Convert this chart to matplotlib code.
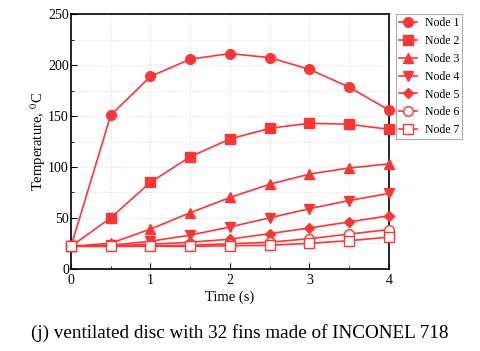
import matplotlib
matplotlib.use("Agg")
import matplotlib.pyplot as plt
from matplotlib.ticker import MultipleLocator

plt.rcParams['font.family'] = ['Liberation Serif', 'DejaVu Serif']
plt.rcParams['mathtext.fontset'] = 'stix'

time = [0, 0.5, 1, 1.5, 2, 2.5, 3, 3.5, 4]
node1 = [22, 151, 189, 206, 211.5, 207.5, 196, 178.5, 156]
node2 = [22, 50, 85, 110, 127.5, 138, 143, 142, 137]
node3 = [22, 25, 39, 55, 70, 83, 93, 99, 103]
node4 = [22, 23, 27, 33, 41, 50, 59, 67, 74]
node5 = [22, 22.5, 24, 26, 29, 34.5, 40, 46, 52]
node6 = [22, 22, 22.5, 23, 24.5, 26, 29.5, 34, 38.5]
node7 = [22, 22, 22, 22, 22.5, 23, 25, 27.5, 31]
labels = ['Node 1', 'Node 2', 'Node 3', 'Node 4', 'Node 5', 'Node 6', 'Node 7']
series = [node1, node2, node3, node4, node5, node6, node7]
markers = ['o', 's', '^', 'v', 'D', 'o', 's']
filled = [True, True, True, True, True, False, False]
sizes = [7, 7, 6.5, 6.5, 5, 7, 7]

red = '#ff3535'

fig = plt.figure(figsize=(4.8, 3.51), dpi=100)
ax = fig.add_axes([0.148, 0.2345, 0.662, 0.7245])

handles = []
for y, lab, m, f, s in zip(series, labels, markers, filled, sizes):
    h, = ax.plot(time, y, color=red, lw=1.2, marker=m, ms=s,
                 mfc=red if f else 'white', mec=red, mew=1.0,
                 label=lab, clip_on=False, zorder=3)
    handles.append(h)

ax.set_xlim(0, 4)
ax.set_ylim(0, 250)
ax.xaxis.set_major_locator(MultipleLocator(1))
ax.xaxis.set_minor_locator(MultipleLocator(0.5))
ax.yaxis.set_major_locator(MultipleLocator(50))
ax.yaxis.set_minor_locator(MultipleLocator(25))
ax.tick_params(which='both', direction='in', labelsize=10)
ax.tick_params(which='major', length=4)
ax.tick_params(which='minor', length=2)
ax.tick_params(axis='y', which='major', pad=1.5)
ax.grid(True, which='both', color='#dddddd', linestyle=':', linewidth=0.8)
for sp in ax.spines.values():
    sp.set_linewidth(1.2)

ax.set_xlabel('Time (s)', fontsize=10.5, labelpad=3)
ax.set_ylabel('Temperature, $^{0}$C', fontsize=10.5, labelpad=0.5)

leg = fig.legend(handles=handles, loc='upper left', bbox_to_anchor=(396/480, 1 - 14/351),
                 fontsize=8.5, frameon=True, fancybox=False, handlelength=1.5,
                 borderpad=0.25, labelspacing=0.5, handletextpad=0.7, borderaxespad=0)
leg.get_frame().set_edgecolor('#999999')
leg.get_frame().set_linewidth(0.8)

fig.text(0.5, 1 - 333/351, '(j) ventilated disc with 32 fins made of INCONEL 718',
         ha='center', va='center', fontsize=13.8)

fig.savefig('out.png', dpi=100)
